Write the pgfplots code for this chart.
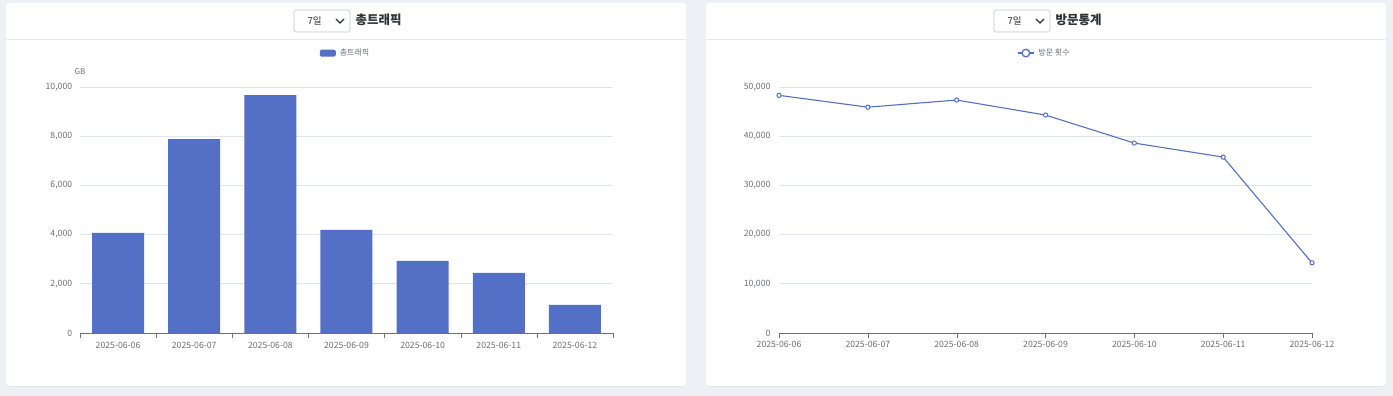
\documentclass[border=0pt]{standalone}
\usepackage{fontspec}
\setmainfont{Noto Sans CJK KR}
\usepackage{pgfplots}
\pgfplotsset{compat=1.18}
\definecolor{bg}{HTML}{EEF0F5}
\definecolor{barblue}{HTML}{5470C6}
\definecolor{tickgray}{HTML}{6E7079}
\definecolor{gridc}{HTML}{E0E6F1}
\definecolor{sepc}{HTML}{E6E8EE}
\definecolor{boxc}{HTML}{C0C4CC}
\definecolor{titlec}{HTML}{303133}
\pgfplotsset{
  common/.style={
    scale only axis, width=533pt, height=246pt, anchor=south west,
    axis x line=bottom, axis y line=left,
    axis line style={-},
    y axis line style={draw=none},
    x axis line style={color=tickgray},
    ymajorgrids, major grid style={color=gridc, line width=0.6pt},
    ytick style={draw=none},
    tick align=outside,
    tick label style={font=\fontsize{8.7}{10}\selectfont, color=tickgray},
    /pgf/number format/assume math mode=true,
    /pgf/number format/1000 sep={,},
    scaled y ticks=false,
    xtick={0,...,6},
    xticklabels={2025-06-06,2025-06-07,2025-06-08,2025-06-09,2025-06-10,2025-06-11,2025-06-12},
    legend style={draw=none, fill=none, font=\fontsize{8}{9}\selectfont, text=tickgray, at={(0.5,1.138)}, anchor=center,
      /tikz/every even column/.append style={column sep=0pt}, nodes={inner xsep=4pt}},
    legend cell align=left,
    clip=false,
  }
}
\begin{document}
\begin{tikzpicture}[x=1pt,y=1pt]
\useasboundingbox (0,0) rectangle (1393,396);
\fill[bg] (0,0) rectangle (1393,396);
% cards
\fill[black!10, rounded corners=3pt] (6,9) rectangle (686,393);
\fill[white, rounded corners=3pt] (6,10) rectangle (686,393);
\fill[black!10, rounded corners=3pt] (706,9) rectangle (1386,393);
\fill[white, rounded corners=3pt] (706,10) rectangle (1386,393);
\draw[sepc, line width=0.8pt] (6,357) -- (686,357);
\draw[sepc, line width=0.8pt] (706,357) -- (1386,357);
% headers
\draw[boxc, rounded corners=1.5pt, line width=0.7pt] (294,364) rectangle (350,386);
\node[anchor=west, font=\fontsize{9.5}{10}\selectfont, text=titlec] at (304,375) {7일};
\draw[titlec, line width=1.3pt] (336,377) -- (340,373) -- (344,377);
\node[anchor=west, font=\fontsize{12.5}{14}\selectfont\bfseries, text=titlec] at (352,376) {총트래픽};
\draw[boxc, rounded corners=1.5pt, line width=0.7pt] (994,364) rectangle (1050,386);
\node[anchor=west, font=\fontsize{9.5}{10}\selectfont, text=titlec] at (1004,375) {7일};
\draw[titlec, line width=1.3pt] (1036,377) -- (1040,373) -- (1044,377);
\node[anchor=west, font=\fontsize{12.5}{14}\selectfont\bfseries, text=titlec] at (1052,376) {방문통계};

\begin{axis}[common, at={(80pt,63pt)},
  xmin=-0.5, xmax=6.5,
  ymin=0, ymax=10000, ytick={0,2000,...,10000},
  major x tick style={draw=none},
  minor xtick={-0.5,0.5,...,6.5},
  minor x tick style={color=tickgray},
  minor tick length=5pt,
  xticklabel style={yshift=-1pt},
  legend image code/.code={\fill[barblue, rounded corners=1.5pt] (0pt,-3.5pt) rectangle (16pt,3.5pt);},
]
\addplot[ybar, bar width=52pt, fill=barblue, draw=none] coordinates {
(0,4070) (1,7880) (2,9670) (3,4190) (4,2930) (5,2440) (6,1140)};
\addlegendentry{총트래픽}
\node[font=\fontsize{8}{9}\selectfont, text=tickgray] at (rel axis cs:0,1) [yshift=15pt] {GB};
\end{axis}

\begin{axis}[common, at={(779pt,63pt)},
  xmin=0, xmax=6,
  ymin=0, ymax=50000, ytick={0,10000,...,50000},
  major x tick style={color=tickgray},
  major tick length=5pt,
  legend image code/.code={\draw[barblue, line width=1.2pt] (0pt,0pt) -- (16pt,0pt); \draw[barblue, fill=white, line width=1.3pt] (8pt,0pt) circle (3.8pt);},
]
\addplot[barblue, line width=1.1pt, mark=*, mark size=2.1pt, mark options={fill=white, line width=1pt}] coordinates {
(0,48300) (1,45900) (2,47350) (3,44300) (4,38600) (5,35750) (6,14250)};
\addlegendentry{방문 횟수}
\end{axis}
\end{tikzpicture}
\end{document}
